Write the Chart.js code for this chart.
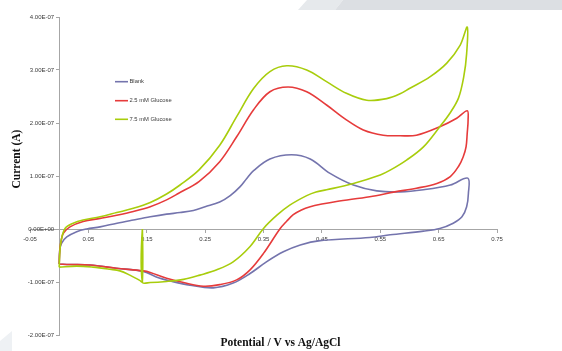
<!DOCTYPE html>
<html>
<head>
<meta charset="utf-8">
<script src="https://cdn.jsdelivr.net/npm/chart.js@4.4.1/dist/chart.umd.min.js"></script>
<style>
  html, body { margin: 0; padding: 0; background: #fff; }
  #wrap { position: relative; width: 562px; height: 351px; overflow: hidden; }
  .deco { position: absolute; }
  #band1 { left: 0; top: 0; width: 562px; height: 10px; background: #e6e9ec;
           clip-path: polygon(307px 0, 343px 0, 335px 10px, 298px 10px); }
  #band2 { left: 0; top: 0; width: 562px; height: 10px; background: #dcdfe3;
           clip-path: polygon(343px 0, 562px 0, 562px 10px, 335px 10px); }
  #corner { left: 0; top: 331px; width: 13px; height: 20px; background: #eef1f4;
            clip-path: polygon(0 10px, 12px 0, 12px 20px, 0 20px); }
  canvas { position: absolute; left: 0; top: 0; }
</style>
</head>
<body>
<div id="wrap">
  <div class="deco" id="band1"></div>
  <div class="deco" id="band2"></div>
  <div class="deco" id="corner"></div>
  <canvas id="cv" width="562" height="351"></canvas>
</div>
<script>
// potential in V, current in units of 1e-7 A (forward scan then reverse scan)
const seriesLabels = ['Blank', '2.5 mM Glucose', '7.5 mM Glucose'];
const seriesColors = ['#7474ad', '#e63b3b', '#a8cd0c'];

const potentialBlank = [0.000, 0.001, 0.004, 0.013, 0.030, 0.047, 0.070, 0.099, 0.127, 0.156, 0.184, 0.207, 0.230, 0.250, 0.275, 0.293, 0.310, 0.321, 0.333, 0.361, 0.398, 0.430, 0.464, 0.504, 0.544, 0.584, 0.624, 0.670, 0.700,
  0.701, 0.698, 0.690, 0.675, 0.652, 0.624, 0.567, 0.532, 0.447, 0.413, 0.384, 0.355, 0.327, 0.298, 0.264, 0.224, 0.190, 0.170, 0.144, 0.098, 0.053, 0.018, 0.000];
const currentBlank = [-0.66, -0.40, -0.27, -0.15, -0.05, 0.00, 0.04, 0.11, 0.17, 0.23, 0.28, 0.31, 0.35, 0.42, 0.51, 0.63, 0.80, 0.95, 1.10, 1.32, 1.40, 1.32, 1.05, 0.83, 0.72, 0.70, 0.74, 0.83, 0.96,
  0.67, 0.42, 0.23, 0.11, 0.01, -0.04, -0.11, -0.16, -0.22, -0.30, -0.43, -0.62, -0.84, -1.02, -1.11, -1.06, -0.98, -0.92, -0.80, -0.74, -0.68, -0.67, -0.66];

const potentialGlu25 = [0.000, 0.001, 0.003, 0.007, 0.0185, 0.041, 0.070, 0.0985, 0.127, 0.156, 0.184, 0.204, 0.240, 0.275, 0.304, 0.333, 0.361, 0.392, 0.424, 0.458, 0.492, 0.521, 0.555, 0.584, 0.612, 0.652, 0.681, 0.699,
  0.7005, 0.699, 0.697, 0.692, 0.684, 0.670, 0.647, 0.612, 0.575, 0.532, 0.475, 0.450, 0.430, 0.415, 0.401, 0.390, 0.378, 0.350, 0.327, 0.304, 0.275, 0.247, 0.213, 0.184, 0.156, 0.144, 0.098, 0.053, 0.0185, 0.000];
const currentGlu25 = [-0.66, -0.40, -0.24, -0.08, 0.04, 0.14, 0.20, 0.26, 0.33, 0.42, 0.55, 0.67, 0.90, 1.27, 1.74, 2.25, 2.59, 2.68, 2.59, 2.34, 2.06, 1.87, 1.77, 1.76, 1.77, 1.93, 2.09, 2.23,
  2.06, 1.81, 1.55, 1.36, 1.18, 0.99, 0.86, 0.77, 0.70, 0.61, 0.52, 0.47, 0.42, 0.36, 0.27, 0.15, 0.00, -0.46, -0.77, -0.96, -1.05, -1.08, -1.01, -0.93, -0.82, -0.79, -0.74, -0.68, -0.67, -0.66];

const potentialGlu75 = [0.000, 0.001, 0.003, 0.010, 0.024, 0.041, 0.070, 0.0985, 0.127, 0.156, 0.184, 0.207, 0.240, 0.275, 0.304, 0.333, 0.361, 0.390, 0.424, 0.458, 0.492, 0.527, 0.561, 0.584, 0.600, 0.635, 0.664, 0.687, 0.699,
  0.698, 0.693, 0.684, 0.669, 0.652, 0.624, 0.595, 0.567, 0.550, 0.504, 0.458, 0.440, 0.424, 0.395, 0.373, 0.350, 0.327, 0.298, 0.270, 0.241, 0.213, 0.184, 0.156, 0.1425, 0.1425, 0.1425, 0.138, 0.121, 0.104, 0.087, 0.058, 0.030, 0.000];
const currentGlu75 = [-0.72, -0.45, -0.24, 0.01, 0.11, 0.17, 0.23, 0.31, 0.39, 0.50, 0.66, 0.83, 1.12, 1.58, 2.12, 2.65, 2.97, 3.08, 3.00, 2.78, 2.56, 2.43, 2.46, 2.55, 2.65, 2.87, 3.13, 3.47, 3.81,
  3.31, 2.87, 2.47, 2.18, 1.93, 1.55, 1.30, 1.11, 1.02, 0.86, 0.74, 0.70, 0.63, 0.45, 0.26, 0.01, -0.33, -0.62, -0.77, -0.87, -0.95, -0.99, -1.01, -1.00, 0.00, -1.00, -0.97, -0.87, -0.79, -0.76, -0.72, -0.70, -0.72];

const xMin = -0.05, xMax = 0.75, xStep = 0.1;
const yMin = -2, yMax = 4, yStep = 1;   // units of 1e-7 A
const currentUnitExp = -7;

const axisColor = '#a6a6a6';
const tickFont = { family: 'Liberation Sans, Arial, sans-serif', size: 6 };
const tickColor = '#3a3a3a';

function toPoints(xs, ys) {
  return xs.map((x, i) => ({ x: x, y: ys[i] }));
}

function sciLabel(v) {
  if (Math.abs(v) < 1e-9) return '0.00E+00';
  const a = v * Math.pow(10, currentUnitExp);
  let e = Math.floor(Math.log10(Math.abs(a)));
  let m = a / Math.pow(10, e);
  if (Math.abs(m) >= 9.995) { m /= 10; e += 1; }
  const es = (e < 0 ? '-' : '+') + String(Math.abs(e)).padStart(2, '0');
  return m.toFixed(2) + 'E' + es;
}

function zeroFit(scale, horizontal) {
  if (horizontal) scale.height = 0; else scale.width = 0;
  scale.paddingLeft = scale.paddingRight = scale.paddingTop = scale.paddingBottom = 0;
}

const overlayText = {
  id: 'overlayText',
  afterDraw(chart) {
    const ctx = chart.ctx;
    ctx.save();
    // legend inside the plot
    const legY = [81.7, 100.7, 119.3];
    ctx.font = '5.8px Liberation Sans, Arial, sans-serif';
    ctx.textAlign = 'left';
    ctx.textBaseline = 'middle';
    seriesLabels.forEach((lab, i) => {
      ctx.strokeStyle = seriesColors[i];
      ctx.lineWidth = 1.6;
      ctx.beginPath();
      ctx.moveTo(115, legY[i]);
      ctx.lineTo(128, legY[i]);
      ctx.stroke();
      ctx.fillStyle = '#3a3a3a';
      ctx.fillText(lab, 129.5, legY[i]);
    });
    // axis titles
    ctx.fillStyle = '#111';
    ctx.font = 'bold 11.5px Liberation Serif, Times New Roman, serif';
    ctx.textAlign = 'center';
    ctx.textBaseline = 'middle';
    ctx.fillText('Potential / V vs Ag/AgCl', 280.5, 343);
    ctx.translate(17.5, 159);
    ctx.rotate(-Math.PI / 2);
    ctx.fillText('Current (A)', 0, 0);
    ctx.restore();
  }
};

new Chart(document.getElementById('cv'), {
  type: 'scatter',
  data: {
    datasets: [
      { label: seriesLabels[0], data: toPoints(potentialBlank, currentBlank), borderColor: seriesColors[0], order: 3 },
      { label: seriesLabels[1], data: toPoints(potentialGlu25, currentGlu25), borderColor: seriesColors[1], order: 2 },
      { label: seriesLabels[2], data: toPoints(potentialGlu75, currentGlu75), borderColor: seriesColors[2], order: 1 }
    ]
  },
  options: {
    responsive: false,
    animation: false,
    showLine: true,
    layout: { padding: { left: 30, right: 65, top: 17, bottom: 16 } },
    elements: {
      point: { radius: 0, hoverRadius: 0 },
      line: { borderWidth: 1.6, tension: 0.35, fill: false }
    },
    plugins: { legend: { display: false }, tooltip: { enabled: false } },
    scales: {
      x: {
        type: 'linear', min: xMin, max: xMax,
        position: { y: 0 },
        grid: { drawOnChartArea: false, drawTicks: true, tickLength: 3, color: axisColor },
        border: { color: axisColor, width: 1 },
        ticks: { stepSize: xStep, autoSkip: false, maxRotation: 0, padding: 4, font: tickFont, color: tickColor,
                 callback: v => v.toFixed(2) },
        afterFit: s => zeroFit(s, true)
      },
      y: {
        type: 'linear', min: yMin, max: yMax,
        position: { x: 0 },
        grid: { drawOnChartArea: false, drawTicks: true, tickLength: 3, color: axisColor },
        border: { color: axisColor, width: 1 },
        // labels of an axis placed at x = 0 sit on the line, trailing spaces move them off it
        ticks: { stepSize: yStep, autoSkip: false, padding: 2, font: tickFont, color: tickColor,
                 callback: v => sciLabel(v) + '   ' },
        afterFit: s => zeroFit(s, false)
      }
    }
  },
  plugins: [overlayText]
});
</script>
</body>
</html>
